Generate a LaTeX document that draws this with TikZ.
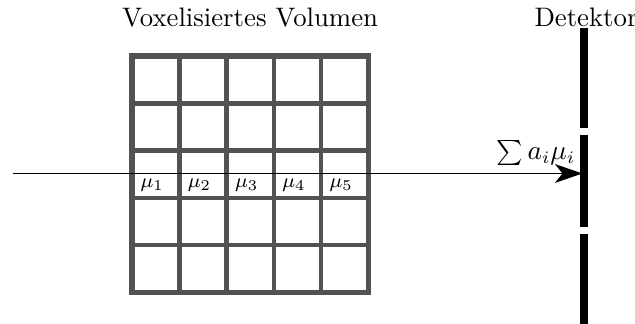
\documentclass[tikz,border=0pt]{standalone}
\usetikzlibrary{arrows.meta}
\begin{document}
\begin{tikzpicture}[x=0.4pt,y=-0.4pt,
  gridline/.style={draw=black!68,line width=1.8pt},
  gridframe/.style={draw=black!68,line width=2.2pt},
  detseg/.style={draw=black,line width=3.1pt},
  ray/.style={draw=black,line width=0.65pt,-{Stealth[length=11pt,width=7.5pt,inset=3pt]}},
  mulabel/.style={anchor=west,inner sep=0pt,font=\fontsize{8.4}{10}\selectfont},
  title/.style={inner sep=0pt,font=\fontsize{10.7}{13}\selectfont}]
\useasboundingbox (0,0) rectangle (635,324);
% grid
\foreach \i in {1,...,4} {
  \draw[gridline] ({132+47.3*\i},56) -- ({132+47.3*\i},292.5);
  \draw[gridline] (132,{56+47.3*\i}) -- (368.5,{56+47.3*\i});
}
\draw[gridframe] (132,56) rectangle (368.5,292.5);
% labels
\node[title] (vol) at (250,18) {Voxelisiertes Volumen};
\node[title] (det) at (586,17) {Detektor};
% detector
\coordinate (d1a) at (584,28); \coordinate (d1b) at (584,128);
\coordinate (d2a) at (584,135); \coordinate (d2b) at (584,227);
\coordinate (d3a) at (584,234); \coordinate (d3b) at (584,324);
\draw[detseg] (d1a) -- (d1b);
\draw[detseg] (d2a) -- (d2b);
\draw[detseg] (d3a) -- (d3b);
% ray
\coordinate (src) at (13,173.5);
\coordinate (hit) at (582.5,173.5);
\draw[ray] (src) -- (hit);
\node[inner sep=0pt,font=\fontsize{10.7}{13}\selectfont] (sum) at (536,153) {$\sum a_i\mu_i$};
% mu labels
\foreach \k in {1,...,5} {
  \node[mulabel] (mu\k) at ({140+47.3*(\k-1)},185) {$\mu_{\k}$};
}
\end{tikzpicture}
\end{document}
